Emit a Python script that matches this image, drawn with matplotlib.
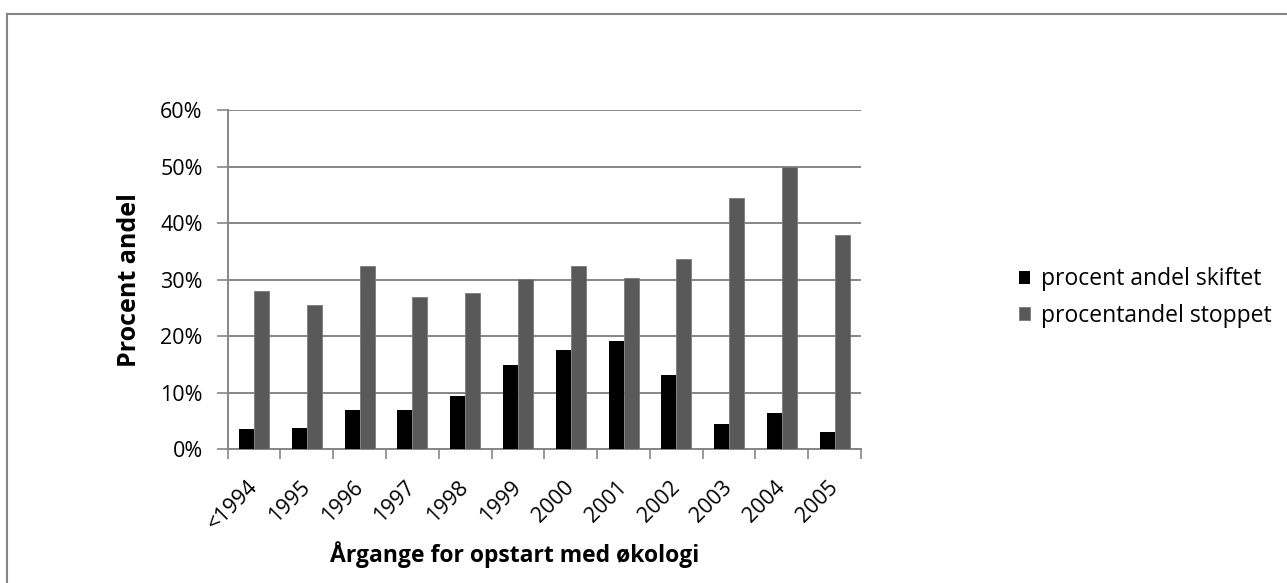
import matplotlib
matplotlib.use("Agg")
import matplotlib.pyplot as plt
from matplotlib.lines import Line2D
import numpy as np

# values (percent)
years = ['<1994', '1995', '1996', '1997', '1998', '1999',
         '2000', '2001', '2002', '2003', '2004', '2005']
skiftet = [3.6, 3.8, 6.9, 7.0, 9.4, 15.0, 17.5, 19.2, 13.2, 4.4, 6.4, 3.1]
stoppet = [28.1, 25.5, 32.5, 27.0, 27.6, 30.1, 32.5, 30.4, 33.7, 44.5, 50.0, 37.9]
series_names = ['procent andel skiftet', 'procentandel stoppet']

plt.rcParams['font.family'] = ['Open Sans', 'DejaVu Sans']

W, H = 1287, 583
fig = plt.figure(figsize=(W / 100, H / 100), dpi=100)
ax = fig.add_axes([227.7 / W, 133.7 / H, (861 - 227.7) / W, (449.3 - 110.3) / H])

grid_col = '#868686'
x = np.arange(len(years))
bw = 0.284
ax.bar(x - bw / 2, skiftet, bw, color='black', label=series_names[0], zorder=3)
ax.bar(x + bw / 2, stoppet, bw, color='#595959', edgecolor='#7a7a7a', linewidth=0.6,
       label=series_names[1], zorder=3)

ax.set_xlim(-0.5, len(years) - 0.5)
ax.set_ylim(0, 60)
ax.set_yticks(np.arange(0, 61, 10))
ax.set_yticklabels([f'{v}%' for v in range(0, 61, 10)], fontsize=15.5)
ax.yaxis.grid(True, color=grid_col, linewidth=1.4, zorder=0)
ax.tick_params(axis='y', length=8, color=grid_col, width=1.2, pad=10)

ax.set_xticks(x)
ax.set_xticklabels(years, fontsize=15.5, rotation=45, ha='right', va='center',
                   rotation_mode='anchor')
ax.set_xticks(np.arange(-0.5, len(years)), minor=True)
ax.tick_params(axis='x', which='major', length=0, pad=25)
ax.tick_params(axis='x', which='minor', length=7, color=grid_col, width=1.2)

for side in ['top', 'right']:
    ax.spines[side].set_visible(False)
for side in ['left', 'bottom']:
    ax.spines[side].set_color(grid_col)
    ax.spines[side].set_linewidth(1.4)

ax.set_ylabel('Procent andel', fontsize=18, fontweight='bold')
ax.yaxis.set_label_coords((130 - 227.7) / (861 - 227.7), 0.5)
ax.set_xlabel('Årgange for opstart med økologi', fontsize=16.5, fontweight='bold')
ax.xaxis.set_label_coords((515 - 227.7) / (861 - 227.7), -(555 - 449.3) / (449.3 - 110.3))
ax.xaxis.label.set_va('center')
ax.yaxis.label.set_va('center')

ax.legend(loc='center left', bbox_to_anchor=(1019 / W, 1 - 297.5 / H),
          bbox_transform=fig.transFigure, frameon=False, fontsize=16.5, borderpad=0,
          borderaxespad=0, handlelength=0.5, handleheight=0.5, handletextpad=0.45,
          labelspacing=0.55)

# outer chart-area border (only top and left are visible in the reference)
fig.add_artist(Line2D([7 / W, 7 / W], [0, 1 - 13.5 / H], transform=fig.transFigure,
                      color=grid_col, linewidth=1.5))
fig.add_artist(Line2D([7 / W, 1], [1 - 13.5 / H, 1 - 13.5 / H], transform=fig.transFigure,
                      color=grid_col, linewidth=1.5))

fig.savefig('out.png', dpi=100)
